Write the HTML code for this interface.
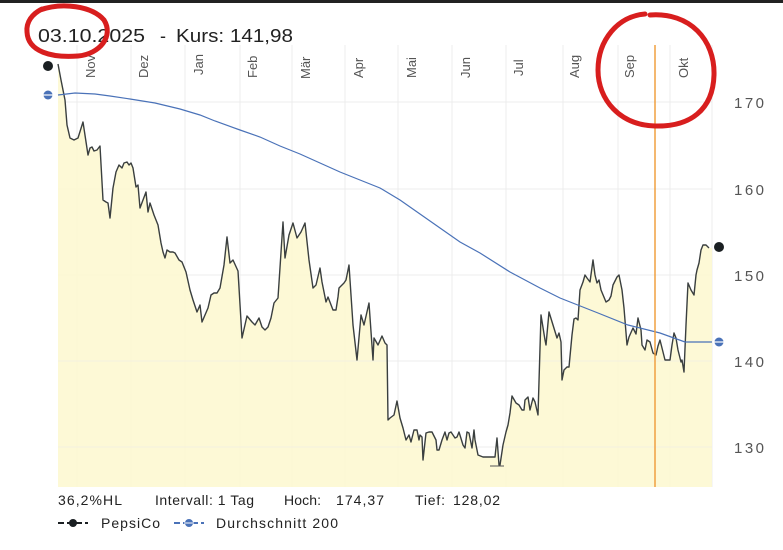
<!DOCTYPE html>
<html><head><meta charset="utf-8"><style>
body{margin:0;width:783px;height:545px;background:#fff;overflow:hidden;font-family:"Liberation Sans",sans-serif}
</style></head><body>
<svg width="783" height="545" viewBox="0 0 783 545" xmlns="http://www.w3.org/2000/svg" font-family="Liberation Sans, sans-serif">
<rect x="0" y="0" width="783" height="3" fill="#222"/>
<g stroke="#ececec" stroke-width="1">
<line x1="58" y1="102" x2="712" y2="102"/><line x1="58" y1="189" x2="712" y2="189"/>
<line x1="58" y1="275" x2="712" y2="275"/><line x1="58" y1="361" x2="712" y2="361"/>
<line x1="58" y1="447" x2="712" y2="447"/>
<line x1="77" y1="45" x2="77" y2="487"/><line x1="131" y1="45" x2="131" y2="487"/><line x1="185" y1="45" x2="185" y2="487"/><line x1="240" y1="45" x2="240" y2="487"/><line x1="292" y1="45" x2="292" y2="487"/><line x1="345" y1="45" x2="345" y2="487"/><line x1="398" y1="45" x2="398" y2="487"/><line x1="452" y1="45" x2="452" y2="487"/><line x1="506" y1="45" x2="506" y2="487"/><line x1="563" y1="45" x2="563" y2="487"/><line x1="618" y1="45" x2="618" y2="487"/><line x1="670" y1="45" x2="670" y2="487"/><line x1="712" y1="45" x2="712" y2="487"/>
</g>
<polygon fill="#fdf8d2" fill-opacity="0.9" points="58,487 58,64 61,80 65,100 67,125 70,138 74,140 78,138 83,122 88,155 90,148 92,147 94,151 97,150 100,146 103,200 106,202 108,203 110,218 113,188 116,172 119,165 122,168 124,163 127,162 129,165 131,163 133,168 136,187 138,185 140,208 143,200 146,192 148,212 150,203 154,215 158,225 161,243 163,252 165,258 167,250 170,252 173,252 175,253 179,260 182,262 186,272 190,290 193,300 197,312 200,305 202,322 205,315 208,308 211,295 214,293 217,293 220,288 224,265 227,237 230,263 233,260 238,271 242,338 247,316 252,322 255,325 259,318 262,327 265,330 268,327 271,318 274,303 278,298 283,222 285,258 289,235 293,223 297,238 301,232 305,223 309,260 313,288 316,285 320,268 322,282 326,302 328,297 333,310 336,310 338,297 339,288 344,283 346,280 349,265 353,325 357,360 361,315 364,325 369,303 373,360 374,338 378,345 382,336 385,343 387,345 388,420 390,418 394,415 397,401 400,418 403,428 406,440 409,435 411,442 414,430 417,430 419,440 420,435 422,437 423,460 426,433 429,432 432,432 436,440 437,450 439,450 442,440 445,432 447,440 449,433 451,432 455,438 457,437 459,432 463,445 465,448 467,432 469,433 472,448 474,430 475,440 478,455 483,457 495,457 497,438 499,465 500,465 503,445 506,432 508,425 510,413 512,396 516,403 519,405 522,410 524,410 525,400 528,397 530,410 533,398 535,402 538,415 541,315 545,340 546,345 549,312 553,325 557,338 559,333 561,342 562,380 564,370 567,367 569,367 572,335 574,319 576,318 578,320 580,290 583,282 585,275 587,278 590,282 593,260 595,275 597,283 599,280 601,290 606,302 609,300 611,296 613,285 617,277 619,275 622,290 624,308 627,345 629,337 633,328 636,334 638,318 641,330 642,345 645,350 647,340 650,342 653,353 656,355 658,346 660,340 662,348 665,360 667,360 670,360 672,345 674,333 676,338 678,350 681,362 682,360 684,372 686,325 688,283 691,290 694,295 696,275 697,270 699,263 701,250 703,245 706,245 709,248 712,248 712,487"/>
<g stroke="#ececec" stroke-width="1" opacity="0.5">
<line x1="58" y1="447" x2="712" y2="447"/><line x1="58" y1="361" x2="712" y2="361"/>
</g>
<polyline fill="none" stroke="#3a3f3f" stroke-width="1.4" stroke-linejoin="round" points="58,64 61,80 65,100 67,125 70,138 74,140 78,138 83,122 88,155 90,148 92,147 94,151 97,150 100,146 103,200 106,202 108,203 110,218 113,188 116,172 119,165 122,168 124,163 127,162 129,165 131,163 133,168 136,187 138,185 140,208 143,200 146,192 148,212 150,203 154,215 158,225 161,243 163,252 165,258 167,250 170,252 173,252 175,253 179,260 182,262 186,272 190,290 193,300 197,312 200,305 202,322 205,315 208,308 211,295 214,293 217,293 220,288 224,265 227,237 230,263 233,260 238,271 242,338 247,316 252,322 255,325 259,318 262,327 265,330 268,327 271,318 274,303 278,298 283,222 285,258 289,235 293,223 297,238 301,232 305,223 309,260 313,288 316,285 320,268 322,282 326,302 328,297 333,310 336,310 338,297 339,288 344,283 346,280 349,265 353,325 357,360 361,315 364,325 369,303 373,360 374,338 378,345 382,336 385,343 387,345 388,420 390,418 394,415 397,401 400,418 403,428 406,440 409,435 411,442 414,430 417,430 419,440 420,435 422,437 423,460 426,433 429,432 432,432 436,440 437,450 439,450 442,440 445,432 447,440 449,433 451,432 455,438 457,437 459,432 463,445 465,448 467,432 469,433 472,448 474,430 475,440 478,455 483,457 495,457 497,438 499,465 500,465 503,445 506,432 508,425 510,413 512,396 516,403 519,405 522,410 524,410 525,400 528,397 530,410 533,398 535,402 538,415 541,315 545,340 546,345 549,312 553,325 557,338 559,333 561,342 562,380 564,370 567,367 569,367 572,335 574,319 576,318 578,320 580,290 583,282 585,275 587,278 590,282 593,260 595,275 597,283 599,280 601,290 606,302 609,300 611,296 613,285 617,277 619,275 622,290 624,308 627,345 629,337 633,328 636,334 638,318 641,330 642,345 645,350 647,340 650,342 653,353 656,355 658,346 660,340 662,348 665,360 667,360 670,360 672,345 674,333 676,338 678,350 681,362 682,360 684,372 686,325 688,283 691,290 694,295 696,275 697,270 699,263 701,250 703,245 706,245 709,248"/>
<line x1="490" y1="466" x2="504" y2="466" stroke="#555" stroke-width="1"/>
<polyline fill="none" stroke="#4a72b8" stroke-width="1.2" points="58,95 75,93 95,94 110,96 130,99 155,103 180,109 200,115 215,121 240,130 260,137 280,146 300,154 320,163 340,172 360,180 380,188 400,200 420,214 440,228 460,242 480,253 510,272 540,288 560,298 598,313 628,325 660,333 685,342 712,342"/>
<line x1="655" y1="45" x2="655" y2="487" stroke="#f0a040" stroke-width="1.5"/>
<circle cx="48" cy="66" r="5" fill="#1a1f22"/>
<circle cx="719" cy="247" r="5" fill="#1a1f22"/>
<g><circle cx="48" cy="95" r="4.5" fill="#4a72b8"/><line x1="43" y1="95" x2="53" y2="95" stroke="#fff" stroke-width="1.2"/></g>
<g><circle cx="719" cy="342" r="4.5" fill="#4a72b8"/><line x1="714" y1="342" x2="724" y2="342" stroke="#fff" stroke-width="1.2"/></g>
<g font-size="15" fill="#555">
<text x="734" y="108" textLength="30">170</text><text x="734" y="195" textLength="30">160</text><text x="734" y="281" textLength="30">150</text><text x="734" y="367" textLength="30">140</text><text x="734" y="453" textLength="30">130</text>
</g>
<g font-size="13" fill="#555">
<text transform="translate(95,78) rotate(-90)">Nov</text>
<text transform="translate(148,78) rotate(-90)">Dez</text>
<text transform="translate(203,75) rotate(-90)">Jan</text>
<text transform="translate(257,78) rotate(-90)">Feb</text>
<text transform="translate(310,79) rotate(-90)">Mär</text>
<text transform="translate(363,78) rotate(-90)">Apr</text>
<text transform="translate(416,78) rotate(-90)">Mai</text>
<text transform="translate(470,78) rotate(-90)">Jun</text>
<text transform="translate(523,76) rotate(-90)">Jul</text>
<text transform="translate(579,78) rotate(-90)">Aug</text>
<text transform="translate(634,78) rotate(-90)">Sep</text>
<text transform="translate(688,78) rotate(-90)">Okt</text>
</g>
<g font-size="18" fill="#222">
<text x="38" y="42" textLength="107" lengthAdjust="spacingAndGlyphs">03.10.2025</text>
<text x="160" y="42">-</text>
<text x="176" y="42" textLength="117" lengthAdjust="spacingAndGlyphs">Kurs: 141,98</text>
</g>
<g font-size="14" fill="#222">
<text x="58" y="505" textLength="64">36,2%HL</text>
<text x="155" y="505" textLength="99">Intervall: 1 Tag</text>
<text x="284" y="505" textLength="37">Hoch:</text>
<text x="336" y="505" textLength="48">174,37</text>
<text x="415" y="505" textLength="30">Tief:</text>
<text x="453" y="505" textLength="47">128,02</text>
<text x="101" y="528" textLength="59">PepsiCo</text>
<text x="216" y="528" textLength="122">Durchschnitt 200</text>
</g>
<line x1="58" y1="523" x2="88" y2="523" stroke="#1a1f22" stroke-width="2" stroke-dasharray="6,3"/>
<circle cx="73" cy="523" r="4" fill="#1a1f22"/>
<line x1="174" y1="523" x2="204" y2="523" stroke="#4a72b8" stroke-width="2" stroke-dasharray="6,3"/>
<circle cx="189" cy="523" r="4" fill="#4a72b8"/><line x1="184" y1="523" x2="194" y2="523" stroke="#fff" stroke-width="1"/>
<g fill="none" stroke="#d81e1e" stroke-width="5" stroke-linecap="round">
<path d="M40,10 C62,2 92,6 104,20 C114,36 100,54 78,56 C52,58 28,52 27,32 C26,22 32,14 42,9"/>
<path d="M650,15 C690,12 715,40 714,75 C713,110 690,127 655,126 C620,125 598,100 598,70 C598,40 618,16 645,14"/>
</g>
</svg>
</body></html>
